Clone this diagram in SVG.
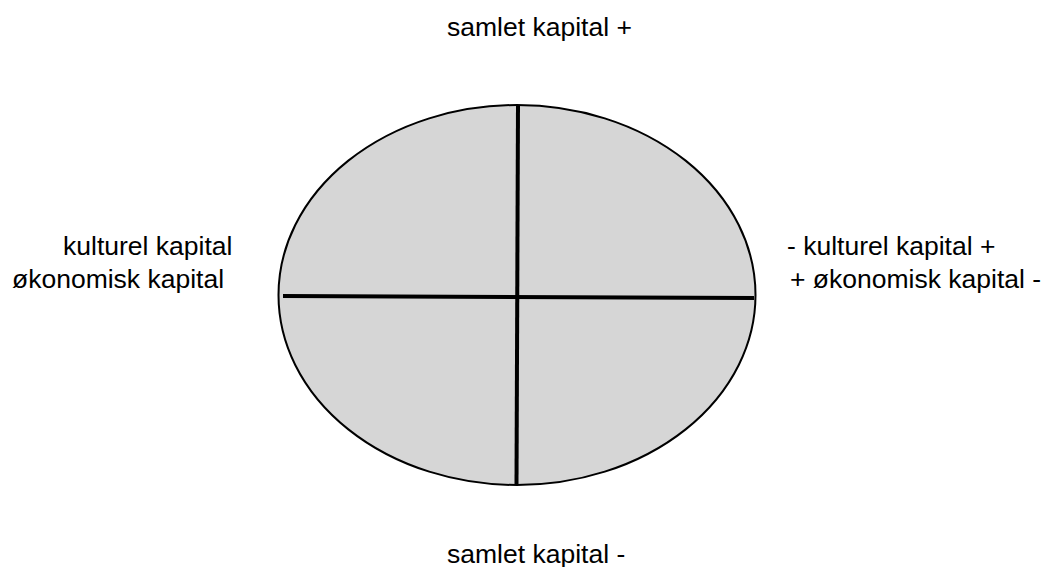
<svg xmlns="http://www.w3.org/2000/svg" width="1043" height="567" viewBox="0 0 1043 567">
<style>
.t{font-family:"Liberation Sans",Arial,sans-serif;font-size:26.5px;fill:#000}
.ax{stroke:#000;stroke-width:4;fill:none}
</style>
<rect width="1043" height="567" fill="#fff"/>
<g id="ellipse">
<ellipse cx="517" cy="295" rx="238.5" ry="190" fill="#d6d6d6" stroke="#000" stroke-width="2"/>
</g>
<g id="connectors">
<line class="ax" x1="518" y1="105" x2="516.5" y2="485"/>
<line class="ax" x1="283" y1="296" x2="754" y2="298"/>
</g>
<g id="label-top"><text class="t" x="447" y="36">samlet kapital +</text></g>
<g id="label-bottom"><text class="t" x="447" y="563">samlet kapital -</text></g>
<g id="label-left-kultur"><text class="t" x="63" y="255">kulturel kapital</text></g>
<g id="label-left-oekonomi"><text class="t" x="12" y="288">økonomisk kapital</text></g>
<g id="label-right-kultur"><text class="t" x="787" y="255">- kulturel kapital +</text></g>
<g id="label-right-oekonomi"><text class="t" x="790" y="288">+ økonomisk kapital -</text></g>
</svg>
